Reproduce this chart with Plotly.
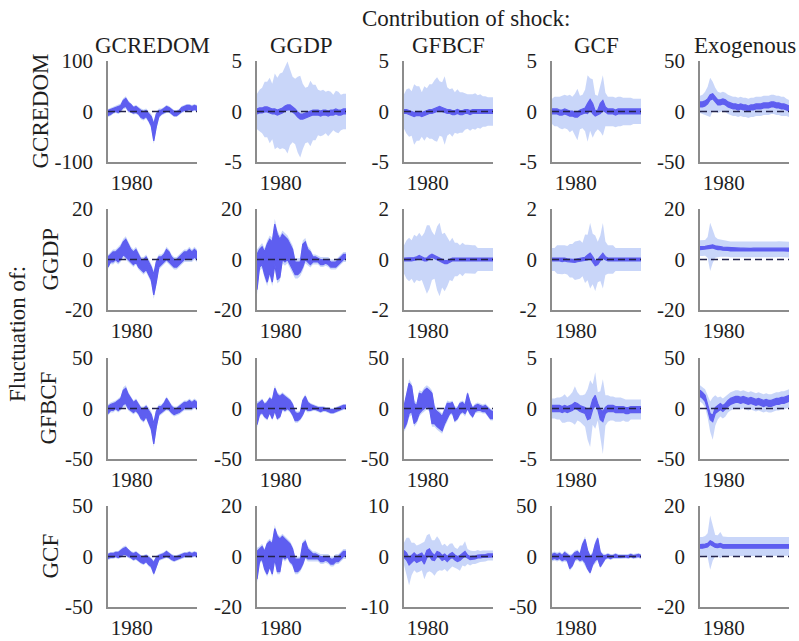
import numpy as np
import plotly.graph_objects as go

# ---------------------------------------------------------------------------
# Historical decomposition: contribution of each shock to each variable.
# Each panel: inner credible band (lo/hi) and an extra outer margin (out).
# ---------------------------------------------------------------------------
periods = 1977 + 0.32 * np.arange(36)

variables = ["GCREDOM", "GGDP", "GFBCF", "GCF"]
shocks = ["GCREDOM", "GGDP", "GFBCF", "GCF", "Exogenous"]
y_limits = [
    [100, 5, 5, 5, 50],
    [20, 20, 2, 2, 20],
    [50, 50, 50, 5, 50],
    [50, 20, 10, 50, 20],
]
year_tick = [1980]

# ---- fluctuation of GCREDOM ----
gcredom_by_gcredom_lo = [-8, -6, -2, 0, -2, 2, 8, 10, 2, 0, -3, -2, -5, -12, -14, -10, -18, -28,
                         -58, -30, -10, -5, -3, 0, 0, -4, -8, -8, -5, 0, 2, 2, 4, 2, 4, 2]
gcredom_by_gcredom_hi = [2, 4, 6, 8, 10, 12, 22, 26, 18, 14, 8, 10, 6, 2, 0, 2, -4, -10,
                         -25, -5, 2, 3, 6, 10, 8, 4, 0, 0, 2, 8, 10, 12, 12, 10, 12, 10]
gcredom_by_gcredom_out = [3, 3, 3, 3, 3, 4, 4, 4, 4, 3, 3, 3, 3, 4, 4, 4, 4, 5,
                          6, 5, 4, 3, 3, 3, 3, 3, 3, 3, 3, 3, 3, 3, 3, 3, 3, 3]

gcredom_by_ggdp_lo = [-0.25, -0.15, -0.15, -0.05, -0.05, -0.15, -0.25, -0.25, -0.35, -0.25, -0.15, 0.05,
                      0.15, 0.15, -0.05, -0.25, -0.55, -0.75, -0.75, -0.65, -0.55, -0.45, -0.35, -0.35,
                      -0.35, -0.45, -0.35, -0.35, -0.45, -0.35, -0.35, -0.25, -0.35, -0.35, -0.25, -0.25]
gcredom_by_ggdp_hi = [0.25, 0.35, 0.35, 0.45, 0.45, 0.35, 0.25, 0.25, 0.15, 0.25, 0.35, 0.55,
                      0.65, 0.65, 0.45, 0.25, -0.05, -0.25, -0.25, -0.15, -0.05, 0.05, 0.15, 0.15,
                      0.15, 0.05, 0.15, 0.15, 0.05, 0.15, 0.15, 0.25, 0.15, 0.15, 0.25, 0.25]
gcredom_by_ggdp_out = [1.5, 1.8, 2, 2.5, 2.5, 3, 2.5, 3.5, 3.2, 3.5, 3.5, 3.8,
                       4.3, 3.5, 3, 3, 3.5, 3.8, 3, 2.5, 2.5, 3, 2.5, 2.5,
                       2, 2, 2, 1.8, 2, 1.8, 1.5, 1.8, 1.8, 1.5, 1.5, 1.5]

gcredom_by_gfbcf_lo = [-0.2, -0.2, -0.3, -0.4, -0.5, -0.4, -0.4, -0.5, -0.4, -0.3, -0.2, -0.2,
                       -0.1, 0, 0.1, 0, -0.1, -0.2, -0.2, -0.3, -0.3, -0.2, -0.3, -0.3,
                       -0.2, -0.2, -0.3, -0.2, -0.2, -0.2, -0.2, -0.2, -0.2, -0.2, -0.2, -0.2]
gcredom_by_gfbcf_hi = [0.2, 0.2, 0.1, 0, -0.1, 0, 0, -0.1, 0, 0.1, 0.2, 0.2,
                       0.3, 0.4, 0.5, 0.4, 0.3, 0.2, 0.2, 0.1, 0.1, 0.2, 0.1, 0.1,
                       0.2, 0.2, 0.1, 0.2, 0.2, 0.2, 0.2, 0.2, 0.2, 0.2, 0.2, 0.2]
gcredom_by_gfbcf_out = [1.5, 2, 2.2, 2, 2.8, 2.5, 2.5, 2, 2.5, 2.2, 2.5, 2.5,
                        2.8, 3, 2.5, 2.5, 3.2, 2.2, 2, 2.2, 1.8, 2, 1.8, 1.8,
                        1.6, 1.5, 1.6, 1.5, 1.6, 1.4, 1.5, 1.3, 1.3, 1.2, 1.2, 1.2]

gcredom_by_gcf_lo = [-0.25, -0.25, -0.25, -0.35, -0.35, -0.25, -0.35, -0.45, -0.45, -0.55, -0.55, -0.35,
                     -0.25, -0.15, -0.2, 0.2, -0.2, -0.45, -0.35, -0.2, 0.1, -0.05, -0.25, -0.25,
                     -0.25, -0.35, -0.25, -0.25, -0.25, -0.25, -0.25, -0.25, -0.25, -0.25, -0.25, -0.25]
gcredom_by_gcf_hi = [0.25, 0.25, 0.25, 0.15, 0.15, 0.25, 0.15, 0.05, 0.05, -0.05, -0.05, 0.15,
                     0.25, 0.35, 0.8, 1.2, 0.8, 0.05, 0.15, 0.8, 1.1, 0.45, 0.25, 0.25,
                     0.25, 0.15, 0.25, 0.25, 0.25, 0.25, 0.25, 0.25, 0.25, 0.25, 0.25, 0.25]
gcredom_by_gcf_out = [1, 1.2, 1.2, 1.3, 1.4, 1.4, 1.4, 1.6, 1.4, 1.8, 2.3, 1.4,
                      1.4, 1.8, 2.8, 2.1, 2.4, 1.6, 1.4, 1.8, 2.5, 1.4, 1.2, 1.2,
                      1.2, 1.2, 1.2, 1.2, 1.1, 1.1, 1.1, 1.1, 1, 1, 1, 1]

gcredom_by_exog_lo = [4.5, 4.5, 5.5, 7.5, 11.5, 12.5, 9.5, 6.5, 6.5, 7.5, 6.5, 4.5,
                      3.5, 2.5, 2.5, 1.5, 2.5, 1.5, 1.5, 0.5, 1.5, 1.5, 2.5, 2.5,
                      2.5, 3.5, 3.5, 3.5, 4.5, 4.5, 3.5, 3.5, 2.5, 2.5, 1.5, 0.5]
gcredom_by_exog_hi = [9.5, 9.5, 10.5, 12.5, 16.5, 17.5, 14.5, 11.5, 11.5, 12.5, 11.5, 9.5,
                      8.5, 7.5, 7.5, 6.5, 7.5, 6.5, 6.5, 5.5, 6.5, 6.5, 7.5, 7.5,
                      7.5, 8.5, 8.5, 8.5, 9.5, 9.5, 8.5, 8.5, 7.5, 7.5, 6.5, 5.5]
gcredom_by_exog_out = [6, 7, 9, 12, 17, 12, 9, 8, 7, 7, 7, 7,
                       7, 7, 7, 7, 7, 7, 7, 7, 7, 7, 7, 7,
                       7, 7, 7, 7, 7, 7, 7, 7, 7, 7, 6, 6]

# ---- fluctuation of GGDP ----
ggdp_by_gcredom_lo = [-3, -1, -1, 0, -1, 0, 2, 1, 0, -1, -2, -1, -3, -4, -5, -4, -6, -8,
                      -14, -9, -3, -2, -1, 0, -1, -2, -3, -3, -2, -1, 0, 0, 0, 0, 1, 0]
ggdp_by_gcredom_hi = [1, 2, 3, 3, 4, 5, 7, 8, 6, 4, 3, 4, 2, 0, 0, 1, -1, -3,
                      -6, -1, 1, 1, 2, 4, 3, 1, 0, 0, 1, 2, 3, 3, 4, 3, 4, 3]
ggdp_by_gcredom_out = [0.8, 0.8, 1, 1, 1, 1, 1.2, 1.2, 1, 1, 1, 1, 1, 1, 1, 1, 1.2, 1.2,
                       1.5, 1.2, 1, 1, 1, 1, 1, 1, 1, 1, 1, 1, 1, 1, 1, 1, 1, 1]

ggdp_by_ggdp_lo = [-12, -3, -2, -6, -9, -5, -9, -2, -8, -7, 0, -1, 0, -2, -4, -6, -6, -5,
                   -3, 0, -1, -2, -1, -1, -1, -2, -2, -1.5, -2, -3, -3, -3, -2, -1, 0, 0]
ggdp_by_ggdp_hi = [2, 4, 5, 3, 6, 8, 7, 14, 10, 8, 10, 9, 8, 6, 4, -1, -1, -1,
                   6, 7, 4, 3, 1, 1, 0.5, 0, 0, 0, 0, -1, -1, -1, 0, 1, 2, 2]
ggdp_by_ggdp_out = [2, 1.5, 1.5, 1.5, 1.5, 1.5, 1.5, 2, 1.5, 1.5, 1.5, 1.5,
                    1.5, 1.5, 1.5, 1.5, 1.5, 1.5, 1.5, 1.5, 1.2, 1.2, 1, 1,
                    1, 1, 1, 1, 1, 1, 1, 1, 1, 1, 1, 1]

ggdp_by_gfbcf_lo = [-0.06, -0.06, -0.06, -0.06, -0.04, -0.01, 0.04, -0.01, -0.06, -0.06, 0.04, 0.09,
                    0.04, -0.01, -0.06, -0.11, -0.16, -0.16, -0.11, -0.06, -0.06, -0.06, -0.06, -0.06,
                    -0.04, -0.04, -0.06, -0.06, -0.06, -0.06, -0.06, -0.06, -0.06, -0.06, -0.06, -0.06]
ggdp_by_gfbcf_hi = [0.06, 0.06, 0.06, 0.06, 0.08, 0.11, 0.16, 0.11, 0.06, 0.06, 0.16, 0.21,
                    0.16, 0.11, 0.06, 0.01, -0.04, -0.04, 0.01, 0.06, 0.06, 0.06, 0.06, 0.06,
                    0.08, 0.08, 0.06, 0.06, 0.06, 0.06, 0.06, 0.06, 0.06, 0.06, 0.06, 0.06]
ggdp_by_gfbcf_out = [0.5, 0.7, 0.8, 0.7, 0.9, 0.8, 0.9, 0.8, 1, 1.3, 1.2, 0.9,
                     0.8, 1.2, 1.4, 1, 1.1, 0.9, 0.7, 0.8, 0.6, 0.6, 0.5, 0.6,
                     0.5, 0.5, 0.5, 0.5, 0.5, 0.4, 0.4, 0.4, 0.4, 0.4, 0.4, 0.4]

ggdp_by_gcf_lo = [-0.06, -0.06, -0.06, -0.06, -0.08, -0.06, -0.09, -0.11, -0.11, -0.11, -0.09, -0.06,
                  -0.06, -0.03, -0.02, 0.05, -0.08, -0.25, -0.2, -0.05, 0.05, -0.01, -0.06, -0.06,
                  -0.06, -0.06, -0.06, -0.06, -0.06, -0.06, -0.06, -0.06, -0.06, -0.06, -0.06, -0.06]
ggdp_by_gcf_hi = [0.06, 0.06, 0.06, 0.06, 0.04, 0.06, 0.03, 0.01, 0.01, 0.01, 0.03, 0.06,
                  0.06, 0.09, 0.18, 0.25, 0.12, -0.05, 0, 0.15, 0.25, 0.11, 0.06, 0.06,
                  0.06, 0.06, 0.06, 0.06, 0.06, 0.06, 0.06, 0.06, 0.06, 0.06, 0.06, 0.06]
ggdp_by_gcf_out = [0.4, 0.4, 0.5, 0.5, 0.5, 0.5, 0.5, 0.6, 0.6, 0.7, 0.7, 0.7,
                   0.6, 0.9, 0.8, 1.2, 0.9, 1.0, 0.7, 0.8, 1.2, 0.6, 0.5, 0.5,
                   0.5, 0.4, 0.4, 0.4, 0.4, 0.4, 0.4, 0.4, 0.4, 0.4, 0.4, 0.4]

ggdp_by_exog_lo = [3.9, 3.9, 4.0, 4.2, 4.4, 4.6, 4.2, 3.9, 3.9, 3.7, 3.6, 3.6,
                   3.4, 3.4, 3.4, 3.4, 3.3, 3.3, 3.2, 3.2, 3.2, 3.3, 3.3, 3.4,
                   3.4, 3.4, 3.3, 3.3, 3.4, 3.4, 3.4, 3.5, 3.5, 3.4, 3.4, 3.3]
ggdp_by_exog_hi = [5.1, 5.1, 5.2, 5.4, 5.6, 5.8, 5.4, 5.1, 5.1, 4.9, 4.8, 4.8,
                   4.6, 4.6, 4.6, 4.6, 4.5, 4.5, 4.4, 4.4, 4.4, 4.5, 4.5, 4.6,
                   4.6, 4.6, 4.5, 4.5, 4.6, 4.6, 4.6, 4.7, 4.7, 4.6, 4.6, 4.5]
ggdp_by_exog_out = [2.5, 2.5, 2.5, 3.5, 9, 6, 3.5, 3, 2.8, 2.5, 2.5, 2.5,
                    2.5, 2.5, 2.5, 2.5, 2.5, 2.5, 2.5, 2.5, 2.5, 2.5, 2.5, 2.5,
                    2.5, 2.5, 2.5, 2.5, 2.5, 2.5, 2.5, 2.5, 2.5, 2.5, 2.5, 2.5]

# ---- fluctuation of GFBCF ----
gfbcf_by_gcredom_lo = [-5, -2, -2, 0, -2, 0, 4, 5, 0, -2, -4, -2, -5, -10, -12, -8, -14, -20,
                       -35, -18, -6, -4, -2, 0, -1, -4, -6, -5, -4, -2, 0, 0, 0, 0, 2, 0]
gfbcf_by_gcredom_hi = [2, 4, 5, 6, 8, 10, 18, 20, 14, 10, 6, 8, 4, 0, 0, 2, -2, -6,
                       -15, -3, 2, 2, 5, 10, 6, 2, 0, 0, 2, 4, 6, 6, 8, 6, 8, 6]
gfbcf_by_gcredom_out = [2, 2, 2, 2, 2, 2, 3, 3, 2, 2, 2, 2, 2, 2, 2, 2, 3, 3,
                        3, 3, 2, 2, 2, 2, 2, 2, 2, 2, 2, 2, 2, 2, 2, 2, 2, 2]

gfbcf_by_ggdp_lo = [-16, -6, -4, -8, -10, -4, -10, -2, -10, -8, 0, -2, 0, -2, -6, -12, -12, -10,
                    -6, 0, -2, -2, -1, -1, -2, -3, -2, -2, -3, -4, -4, -3, -2, -1, 0, 0]
gfbcf_by_ggdp_hi = [4, 6, 8, 4, 6, 10, 8, 20, 14, 12, 14, 12, 10, 8, 4, -4, -5, -4,
                    8, 12, 6, 4, 3, 2, 1, 1, 1, 0, 0, -1, -1, 0, 1, 2, 3, 3]
gfbcf_by_ggdp_out = [3, 2, 2, 2, 2, 2, 2, 3, 2, 2, 2, 2, 2, 2, 2, 2, 2, 2,
                     2, 2, 2, 1.5, 1.5, 1.5, 1.5, 1.5, 1.5, 1.5, 1.5, 1.5, 1.5, 1.5, 1.5, 1.5, 1.5, 1.5]

gfbcf_by_gfbcf_lo = [-20, -15, -5, -3, -15, -12, -5, -2, 0, 2, 0, -15, -15, -18, -20, -22, -15, -10,
                     -5, -4, -12, -10, -5, -3, -5, 0, -5, -8, -3, -2, -2, -3, -3, -6, -10, -10]
gfbcf_by_gfbcf_hi = [2, 12, 25, 22, 5, 3, 15, 14, 18, 20, 18, 15, 0, -3, -5, -8, -2, 5,
                     5, 6, 0, 0, 5, 6, 3, 15, 6, 0, 3, 4, 3, 2, 3, 0, -2, -3]
gfbcf_by_gfbcf_out = [3, 3, 4, 3, 3, 3, 3, 3, 3, 3, 3, 3, 3, 3, 3, 3, 3, 3,
                      2, 2, 2, 2, 2, 2, 3, 2, 2, 2, 2, 2, 2, 2, 2, 2, 2, 2]

gfbcf_by_gcf_lo = [-0.3, -0.3, -0.3, -0.3, -0.4, -0.3, -0.4, -0.3, -0.2, 0, -0.1, -0.3,
                   -0.4, -0.5, -1.1, -1.0, -0.1, 0.3, -0.1, -1.1, -1.3, -0.5, -0.3, -0.3,
                   -0.3, -0.4, -0.4, -0.4, -0.4, -0.5, -0.5, -0.4, -0.4, -0.4, -0.4, -0.4]
gfbcf_by_gcf_hi = [0.3, 0.3, 0.3, 0.3, 0.2, 0.3, 0.2, 0.3, 0.4, 0.6, 0.5, 0.3,
                   0.2, 0.1, -0.1, 0, 0.9, 1.3, 0.5, -0.1, -0.3, 0.1, 0.3, 0.3,
                   0.3, 0.2, 0.2, 0.2, 0.2, 0.1, 0.1, 0.2, 0.2, 0.2, 0.2, 0.2]
gfbcf_by_gcf_out = [0.7, 0.7, 0.8, 0.8, 1, 1.1, 0.9, 1, 1.2, 1.6, 1.1, 1,
                    1.1, 1.3, 2, 2.8, 1.5, 2.3, 1.1, 1.8, 3.2, 1.2, 1, 0.9,
                    0.9, 0.9, 0.9, 0.9, 0.8, 0.8, 0.8, 0.7, 0.7, 0.7, 0.7, 0.7]

gfbcf_by_exog_lo = [12, 10, 7, -1, -11, -13, -5, -3, -1, -3, -1, 2, 4, 5, 6, 6, 5, 6,
                    5, 4, 5, 4, 3, 4, 3, 2, 3, 2, 2, 3, 4, 4, 5, 5, 6, 7]
gfbcf_by_exog_hi = [18, 16, 13, 5, -5, -7, 1, 3, 5, 3, 5, 8, 10, 11, 12, 12, 11, 12,
                    11, 10, 11, 10, 9, 10, 9, 8, 9, 8, 8, 9, 10, 10, 11, 11, 12, 13]
gfbcf_by_exog_out = [5, 5, 6, 8, 12, 18, 12, 8, 7, 7, 7, 6, 6, 6, 6, 6, 6, 6,
                     6, 6, 6, 6, 6, 6, 6, 6, 6, 6, 6, 6, 6, 6, 6, 6, 6, 6]

# ---- fluctuation of GCF ----
gcf_by_gcredom_lo = [-2, -1, -1, 0, -1, 0, 2, 2, 0, -1, -3, -2, -4, -6, -7, -5, -8, -10,
                     -17, -10, -3, -2, -1, 0, -1, -3, -4, -3, -2, -1, 0, 0, 0, 0, 1, 0]
gcf_by_gcredom_hi = [2, 3, 3, 4, 4, 6, 8, 9, 6, 4, 3, 4, 2, 0, 0, 1, -1, -3,
                     -6, -1, 1, 2, 3, 5, 3, 1, 0, 0, 1, 2, 3, 3, 4, 3, 4, 3]
gcf_by_gcredom_out = [1.5, 1.5, 1.5, 1.5, 1.5, 1.5, 2, 2, 1.5, 1.5, 1.5, 1.5,
                      1.5, 1.5, 1.5, 1.5, 2, 2, 2, 2, 1.5, 1.5, 1.5, 1.5,
                      1.5, 1.5, 1.5, 1.5, 1.5, 1.5, 1.5, 1.5, 1.5, 1.5, 1.5, 1.5]

gcf_by_ggdp_lo = [-9, -2, -1, -5, -7, -4, -7, -1, -6, -6, 0, -1, 0, -2, -3, -6, -6, -5,
                  -3, 0, -1, -1, -1, -1, -1, -2, -2, -1.5, -2, -3, -3, -2, -2, -1, 0, 0]
gcf_by_ggdp_hi = [2, 3, 4, 2, 5, 6, 5, 11, 8, 7, 8, 7, 6, 5, 3, -1, -1, -1,
                  5, 6, 3, 2, 1, 1, 0.5, 0, 0, 0, 0, -1, -1, 0, 0, 1, 2, 2]
gcf_by_ggdp_out = [1.5, 1, 1, 1, 1, 1, 1, 1.5, 1, 1, 1, 1, 1, 1, 1, 1, 1, 1,
                   1, 1, 1, 1, 1, 1, 1, 1, 1, 1, 1, 1, 1, 1, 1, 1, 1, 1]

gcf_by_gfbcf_lo = [-0.2, -0.7, -1.7, -1.2, -0.7, -1.2, -1.0, -0.7, -1.5, -0.2, 0.1, -0.7,
                   -0.8, 0, -0.2, -0.8, -0.5, -1.0, -0.5, -0.2, -0.7, -1.0, -0.8, -0.3,
                   0, -0.3, -0.6, -0.5, -0.5, -0.3, -0.3, -0.2, -0.2, -0.1, -0.1, -0.1]
gcf_by_gfbcf_hi = [1.2, 0.7, -0.3, 0.2, 0.7, 0.2, 0.4, 0.7, -0.1, 1.2, 1.5, 0.7,
                   0.2, 1.0, 0.8, 0.2, 0.5, 0, 0.5, 0.8, 0.3, 0, 0.2, 0.7,
                   1.0, 0.3, 0, 0.1, 0.1, 0.3, 0.3, 0.4, 0.4, 0.5, 0.5, 0.5]
gcf_by_gfbcf_out = [1.5, 3, 4, 2.5, 2, 2, 2, 2, 3, 3, 3, 2.5,
                    3, 3, 2.5, 2, 2, 2, 2, 1.8, 1.5, 1.5, 2, 1.5,
                    2, 1.2, 1.2, 1, 1, 1, 0.8, 0.8, 0.8, 0.7, 0.7, 0.7]

gcf_by_gcf_lo = [-3, -2, -3, -2, -4, -3, -4, -12, -9, -3, -2, -4, -3, -6, -12, -16, -8, -4,
                 -2, -10, -6, -2, -1, -2, -1, -1, -1, -1, -1, -0.5, -1, 0, -1, -0.5, 0, -1]
gcf_by_gcf_hi = [2, 3, 2, 3, 1, 4, 2, 0, 1, 4, 5, 2, 12, 17, 6, 0, 2, 12,
                 18, 4, 1, 1, 2, 1, 1, 2, 1, 1, 1.5, 1.5, 1, 2, 1, 1.5, 2, 1]
gcf_by_gcf_out = [2, 2, 2, 2, 2, 2, 2, 2, 2, 2, 2, 2, 2, 3, 2, 2, 2, 3,
                  2, 2, 2, 1.5, 1.5, 1.5, 1.5, 1.5, 1.5, 1.5, 1.5, 1.5, 1.5, 1.5, 1.5, 1.5, 1.5, 1.5]

gcf_by_exog_lo = [3.3, 3.3, 3.5, 3.8, 4.8, 4.3, 3.6, 3.5, 3.8, 3.3, 3.3, 3.3,
                  3.3, 3.3, 3.3, 3.3, 3.3, 3.3, 3.3, 3.3, 3.3, 3.3, 3.3, 3.3,
                  3.3, 3.2, 3.1, 3.1, 3.1, 3.2, 3.3, 3.3, 3.3, 3.3, 3.3, 3.3]
gcf_by_exog_hi = [4.7, 4.7, 4.9, 5.2, 6.2, 5.7, 5.0, 4.9, 5.2, 4.7, 4.7, 4.7,
                  4.7, 4.7, 4.7, 4.7, 4.7, 4.7, 4.7, 4.7, 4.7, 4.7, 4.7, 4.7,
                  4.7, 4.6, 4.5, 4.5, 4.5, 4.6, 4.7, 4.7, 4.7, 4.7, 4.7, 4.7]
gcf_by_exog_out = [3, 3, 3.2, 4, 10, 6, 3.5, 3.5, 4.5, 3.2, 3, 3,
                   3, 3, 3, 3, 3, 3, 3, 3, 3, 3, 3, 3,
                   3, 3, 3, 3, 3, 3, 3, 3, 3, 3, 3, 3]

panels = [
    [(gcredom_by_gcredom_lo, gcredom_by_gcredom_hi, gcredom_by_gcredom_out),
     (gcredom_by_ggdp_lo, gcredom_by_ggdp_hi, gcredom_by_ggdp_out),
     (gcredom_by_gfbcf_lo, gcredom_by_gfbcf_hi, gcredom_by_gfbcf_out),
     (gcredom_by_gcf_lo, gcredom_by_gcf_hi, gcredom_by_gcf_out),
     (gcredom_by_exog_lo, gcredom_by_exog_hi, gcredom_by_exog_out)],
    [(ggdp_by_gcredom_lo, ggdp_by_gcredom_hi, ggdp_by_gcredom_out),
     (ggdp_by_ggdp_lo, ggdp_by_ggdp_hi, ggdp_by_ggdp_out),
     (ggdp_by_gfbcf_lo, ggdp_by_gfbcf_hi, ggdp_by_gfbcf_out),
     (ggdp_by_gcf_lo, ggdp_by_gcf_hi, ggdp_by_gcf_out),
     (ggdp_by_exog_lo, ggdp_by_exog_hi, ggdp_by_exog_out)],
    [(gfbcf_by_gcredom_lo, gfbcf_by_gcredom_hi, gfbcf_by_gcredom_out),
     (gfbcf_by_ggdp_lo, gfbcf_by_ggdp_hi, gfbcf_by_ggdp_out),
     (gfbcf_by_gfbcf_lo, gfbcf_by_gfbcf_hi, gfbcf_by_gfbcf_out),
     (gfbcf_by_gcf_lo, gfbcf_by_gcf_hi, gfbcf_by_gcf_out),
     (gfbcf_by_exog_lo, gfbcf_by_exog_hi, gfbcf_by_exog_out)],
    [(gcf_by_gcredom_lo, gcf_by_gcredom_hi, gcf_by_gcredom_out),
     (gcf_by_ggdp_lo, gcf_by_ggdp_hi, gcf_by_ggdp_out),
     (gcf_by_gfbcf_lo, gcf_by_gfbcf_hi, gcf_by_gfbcf_out),
     (gcf_by_gcf_lo, gcf_by_gcf_hi, gcf_by_gcf_out),
     (gcf_by_exog_lo, gcf_by_exog_hi, gcf_by_exog_out)],
]

# ---------------------------------------------------------------------------
W, H = 799, 641
col_left = [108, 257, 404, 552, 700]
panel_w = 89
row_top = [61, 209, 358, 506]
panel_h = 101

FONT = "Liberation Serif, Times New Roman, serif"
TXT = "#1e1e1e"
OUTER = "rgba(192,207,248,0.85)"
INNER = "#5e5ef0"
ZERO = "#23234a"
AXIS = "#8c8c8c"
TITLE_SIZE = 23
TICK_SIZE = 21

fig = go.Figure()
x = list(periods)
xr = x[::-1]

for r in range(4):
    for c in range(5):
        k = r * 5 + c + 1
        xa, ya = ("x" if k == 1 else f"x{k}"), ("y" if k == 1 else f"y{k}")
        lo, hi, out = (np.asarray(a, dtype=float) for a in panels[r][c])
        fig.add_trace(go.Scatter(
            x=x + xr, y=list(hi + out) + list((lo - out)[::-1]),
            fill="toself", fillcolor=OUTER, line=dict(width=0),
            mode="lines", hoverinfo="skip", showlegend=False, xaxis=xa, yaxis=ya))
        fig.add_trace(go.Scatter(
            x=x + xr, y=list(hi) + list(lo[::-1]),
            fill="toself", fillcolor=INNER, line=dict(width=1.2, color=INNER),
            mode="lines", hoverinfo="skip", showlegend=False, xaxis=xa, yaxis=ya))
        fig.add_trace(go.Scatter(
            x=[x[0], x[-1]], y=[0, 0], mode="lines",
            line=dict(color=ZERO, width=1.6, dash="7px,4px"),
            hoverinfo="skip", showlegend=False, xaxis=xa, yaxis=ya))

        lim = y_limits[r][c]
        x0 = col_left[c] / W
        x1 = (col_left[c] + panel_w) / W
        y1 = 1 - row_top[r] / H
        y0 = 1 - (row_top[r] + panel_h) / H
        axis_common = dict(showgrid=False, zeroline=False, showline=True,
                           linecolor=AXIS, linewidth=1.5, ticks="", automargin=False,
                           tickfont=dict(family=FONT, size=TICK_SIZE, color=TXT))
        fig.layout[("xaxis" if k == 1 else f"xaxis{k}")] = dict(
            axis_common, domain=[x0, x1], anchor=ya,
            range=[x[0], x[-1]], tickvals=year_tick,
            ticktext=[str(v) for v in year_tick], ticklabelstandoff=1)
        fig.layout[("yaxis" if k == 1 else f"yaxis{k}")] = dict(
            axis_common, domain=[y0, y1], anchor=xa,
            range=[-lim, lim], tickvals=[-lim, 0, lim],
            ticktext=[f"-{lim}", "0", f"{lim}"], ticklabelstandoff=9)

annotations = []
for c, name in enumerate(shocks):
    annotations.append(dict(
        x=(col_left[c] + panel_w / 2) / W, y=1 - 46 / H, xref="paper", yref="paper",
        text=name, showarrow=False, xanchor="center", yanchor="middle",
        font=dict(family=FONT, size=TITLE_SIZE, color=TXT)))
annotations.append(dict(
    x=466 / W, y=1 - 18 / H, xref="paper", yref="paper",
    text="Contribution of shock:", showarrow=False, xanchor="center", yanchor="middle",
    font=dict(family=FONT, size=TITLE_SIZE, color=TXT)))
row_label_x = [40, 50, 48, 50]
for r, name in enumerate(variables):
    annotations.append(dict(
        x=row_label_x[r] / W, y=1 - (row_top[r] + panel_h / 2) / H,
        xref="paper", yref="paper", text=name, textangle=-90, showarrow=False,
        xanchor="center", yanchor="middle",
        font=dict(family=FONT, size=TITLE_SIZE, color=TXT)))
annotations.append(dict(
    x=17 / W, y=1 - 334 / H, xref="paper", yref="paper",
    text="Fluctuation of:", textangle=-90, showarrow=False,
    xanchor="center", yanchor="middle",
    font=dict(family=FONT, size=TITLE_SIZE, color=TXT)))

fig.update_layout(
    width=W, height=H, margin=dict(l=0, r=0, t=0, b=0, autoexpand=False),
    paper_bgcolor="white", plot_bgcolor="white",
    annotations=annotations, showlegend=False)

fig.write_html("out.html")
